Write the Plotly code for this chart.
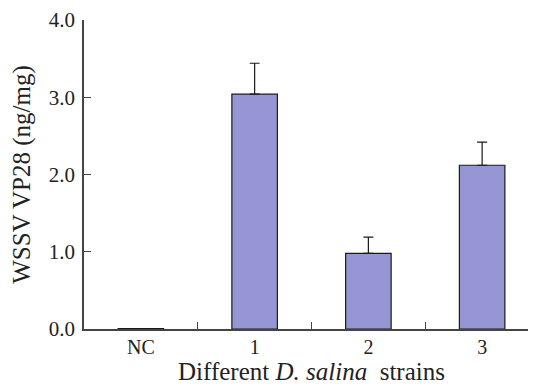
import plotly.graph_objects as go

categories = ["NC", "1", "2", "3"]
values = [0.005, 3.04, 0.98, 2.12]
errors = [0.0, 0.40, 0.21, 0.30]
ytick_vals = [0, 1, 2, 3, 4]
ytick_text = ["0.0", "1.0", "2.0", "3.0", "4.0"]

fig = go.Figure()
fig.add_trace(go.Bar(
    x=categories, y=values, width=0.4,
    marker=dict(color="#9696d4", line=dict(color="#1a1a1a", width=1.2)),
    error_y=dict(type="data", array=errors, arrayminus=[0]*len(errors),
                 symmetric=False, color="#1a1a1a", thickness=1.2, width=5),
))

font = "Liberation Serif, Times New Roman, serif"
fig.update_layout(
    width=536, height=387,
    margin=dict(l=76, r=5, t=12, b=66),
    plot_bgcolor="white", paper_bgcolor="white",
    showlegend=False,
    font=dict(family=font, color="#222", size=15),
    xaxis=dict(
        type="category", range=[-0.5, 3.5], automargin=False,
        tickson="boundaries", ticks="inside", ticklen=7, tickwidth=1.2, tickcolor="#444",
        showline=True, linecolor="#444", linewidth=1.5,
        showgrid=False, zeroline=False,
        tickfont=dict(family=font, size=20, color="#222"),
        ticklabelstandoff=-1,
        title=dict(text="Different <i>D. salina</i>  strains", font=dict(family=font, size=25, color="#222"), standoff=4),
    ),
    yaxis=dict(
        range=[0, 4], tickvals=ytick_vals, ticktext=ytick_text, automargin=False,
        ticks="inside", ticklen=7, tickwidth=1.2, tickcolor="#444",
        showline=True, linecolor="#444", linewidth=1.5,
        showgrid=False, zeroline=False,
        tickfont=dict(family=font, size=21, color="#222"),
        ticklabelstandoff=3,
        title=dict(text="WSSV VP28 (ng/mg)", font=dict(family=font, size=25, color="#222"), standoff=18),
    ),
)
fig.write_html("out.html")
